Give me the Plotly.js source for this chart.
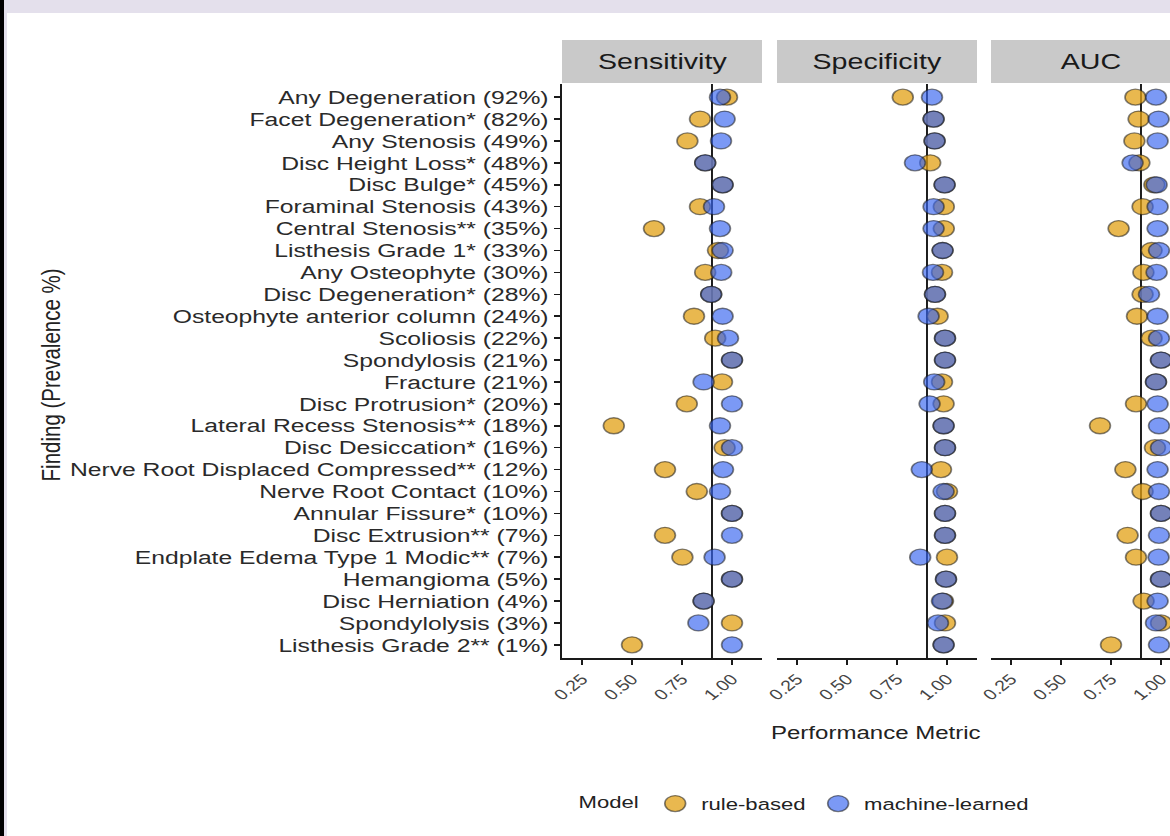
<!DOCTYPE html>
<html>
<head>
<meta charset="utf-8">
<script src="https://cdn.plot.ly/plotly-3.0.1.min.js"></script>
<style>
  html, body { margin: 0; padding: 0; background: #ffffff; overflow: hidden; }
  #wrap { position: absolute; left: 0; top: 0; width: 1170px; height: 836px; overflow: hidden; background: #ffffff; }
  #plot { position: absolute; left: 0; top: 0; width: 925px; height: 836px; transform: scaleX(1.3); transform-origin: 0 0; }
  .band-top { position: absolute; left: 0; top: 0; width: 1170px; height: 13px; background: #E4E0EC; }
  .band-left-black { position: absolute; left: 0; top: 0; width: 4px; height: 836px; background: #000000; }
  .band-left-lav { position: absolute; left: 4px; top: 13px; width: 3px; height: 823px; background: #E4E0EC; }
</style>
</head>
<body>
<div id="wrap"><div id="plot"></div></div>
<div class="band-top"></div>
<div class="band-left-black"></div>
<div class="band-left-lav"></div>
<script>
// ---------------- data ----------------
const categories = [
  "Any Degeneration (92%)",
  "Facet Degeneration* (82%)",
  "Any Stenosis (49%)",
  "Disc Height Loss* (48%)",
  "Disc Bulge* (45%)",
  "Foraminal Stenosis (43%)",
  "Central Stenosis** (35%)",
  "Listhesis Grade 1* (33%)",
  "Any Osteophyte (30%)",
  "Disc Degeneration* (28%)",
  "Osteophyte anterior column (24%)",
  "Scoliosis (22%)",
  "Spondylosis (21%)",
  "Fracture (21%)",
  "Disc Protrusion* (20%)",
  "Lateral Recess Stenosis** (18%)",
  "Disc Desiccation* (16%)",
  "Nerve Root Displaced Compressed** (12%)",
  "Nerve Root Contact (10%)",
  "Annular Fissure* (10%)",
  "Disc Extrusion** (7%)",
  "Endplate Edema Type 1 Modic** (7%)",
  "Hemangioma (5%)",
  "Disc Herniation (4%)",
  "Spondylolysis (3%)",
  "Listhesis Grade 2** (1%)"
];
const panels = ["Sensitivity", "Specificity", "AUC"];
const models = ["rule-based", "machine-learned"];

const sensRule = [0.975,0.84,0.777,0.866,0.953,0.84,0.61,0.93,0.866,0.896,0.81,0.916,1.0,0.95,0.774,0.409,0.963,0.665,0.824,1.0,0.665,0.752,1.0,0.858,1.0,0.50];
const sensML   = [0.94,0.963,0.945,0.866,0.953,0.91,0.94,0.953,0.946,0.896,0.953,0.98,1.0,0.858,1.0,0.94,1.0,0.955,0.94,1.0,1.0,0.913,1.0,0.858,0.832,1.0];
const specRule = [0.779,0.933,0.938,0.916,0.988,0.984,0.984,0.978,0.975,0.94,0.953,0.99,0.99,0.975,0.983,0.983,0.99,0.97,1.0,0.99,0.99,1.0,0.995,0.98,0.99,0.983];
const specML   = [0.925,0.933,0.938,0.84,0.988,0.933,0.933,0.978,0.93,0.94,0.908,0.99,0.99,0.936,0.913,0.983,0.99,0.874,0.983,0.99,0.99,0.866,0.995,0.975,0.955,0.983];
const aucRule  = [0.872,0.888,0.867,0.892,0.967,0.908,0.788,0.953,0.912,0.908,0.88,0.953,1.0,0.975,0.875,0.695,0.97,0.822,0.908,1.0,0.833,0.875,1.0,0.913,1.0,0.75];
const aucML    = [0.975,0.988,0.983,0.858,0.978,0.983,0.983,0.99,0.978,0.94,0.983,0.99,1.0,0.975,0.983,0.99,1.0,0.983,0.99,1.0,0.99,0.988,1.0,0.983,0.975,0.99];

const refValue = 0.9;
const xTickVals = [0.25, 0.5, 0.75, 1.0];
const xTickText = ["0.25", "0.50", "0.75", "1.00"];

// ---------------- layout helpers ----------------
const S = 1.3;          // horizontal stretch of the picture
const W = 925, H = 836; // plot size before stretch
const px = v => v / S / W;          // page x -> paper x
const py = v => 1 - v / H;          // page y -> paper y
const panelPx = [[562, 762], [777, 977], [991, 1191]];
const yTop = 84, yBot = 658;
const stripTop = 40, stripBot = 83;

const ruleColor = "rgba(225,160,20,0.75)";
const mlColor = "rgba(55,100,240,0.66)";
const lineCol = "rgba(25,25,25,0.55)";
const textCol = "#222222";
const FONT = "Liberation Sans, Arial, Helvetica, sans-serif";

const seriesByPanel = [[sensRule, sensML], [specRule, specML], [aucRule, aucML]];
const traces = [];
seriesByPanel.forEach((pair, i) => {
  const xa = i === 0 ? "x" : "x" + (i + 1);
  [0, 1].forEach(m => {
    traces.push({
      type: "scatter", mode: "markers",
      x: pair[m], y: categories,
      xaxis: xa, yaxis: "y",
      name: models[m], legendgroup: models[m], showlegend: i === 0,
      marker: { size: 16, color: m === 0 ? ruleColor : mlColor, line: { color: lineCol, width: 1.3 } },
      hoverinfo: "skip"
    });
  });
});

const layout = {
  width: W, height: H,
  margin: { l: 0, r: 0, t: 0, b: 0 },
  paper_bgcolor: "rgba(0,0,0,0)", plot_bgcolor: "rgba(0,0,0,0)",
  font: { family: FONT, color: textCol },
  showlegend: true,
  legend: {
    orientation: "h", x: px(576), xanchor: "left", y: py(804), yanchor: "middle",
    font: { size: 17, color: textCol, family: FONT },
    title: { text: "Model", side: "left", font: { size: 17, color: textCol, family: FONT } },
    itemclick: false, bgcolor: "rgba(0,0,0,0)"
  },
  yaxis: {
    domain: [py(yBot), py(yTop)], anchor: "x",
    type: "category", categoryorder: "array", categoryarray: categories,
    tickmode: "array", tickvals: categories, ticktext: categories,
    range: [categories.length - 0.4, -0.6],
    showline: true, linecolor: "#1a1a1a", linewidth: 1.5,
    ticks: "outside", ticklen: 5, tickwidth: 1.5, tickcolor: "#1a1a1a",
    tickfont: { size: 19, color: "#2a2a2a", family: FONT },
    showgrid: false, zeroline: false, fixedrange: true
  },
  shapes: [], annotations: []
};

panels.forEach((p, i) => {
  const key = i === 0 ? "xaxis" : "xaxis" + (i + 1);
  const ref = i === 0 ? "x" : "x" + (i + 1);
  layout[key] = {
    domain: [px(panelPx[i][0]), px(panelPx[i][1])], anchor: "y",
    range: [0.15, 1.15],
    tickmode: "array", tickvals: xTickVals, ticktext: xTickText,
    tickangle: -45, tickfont: { size: 15, color: "#444444", family: FONT },
    showline: true, linecolor: "#1a1a1a", linewidth: 1.5,
    ticks: "outside", ticklen: 5, tickwidth: 1.5, tickcolor: "#1a1a1a",
    showgrid: false, zeroline: false, fixedrange: true
  };
  // strip
  layout.shapes.push({
    type: "rect", xref: "paper", yref: "paper",
    x0: px(panelPx[i][0]), x1: px(panelPx[i][1]), y0: py(stripBot), y1: py(stripTop),
    fillcolor: "#C9C9C9", line: { width: 0 }, layer: "below"
  });
  layout.annotations.push({
    xref: "paper", yref: "paper",
    x: px((panelPx[i][0] + panelPx[i][1]) / 2), y: py((stripTop + stripBot) / 2),
    xanchor: "center", yanchor: "middle", showarrow: false,
    text: p, font: { size: 22, color: "#1a1a1a", family: FONT }
  });
  // reference line
  layout.shapes.push({
    type: "line", xref: ref, yref: "y domain",
    x0: refValue, x1: refValue, y0: 0, y1: 1,
    line: { color: "#1a1a1a", width: 1.5 }, layer: "below"
  });
});

layout.annotations.push({
  xref: "paper", yref: "paper", x: px(50), y: py(375),
  xanchor: "center", yanchor: "middle", showarrow: false, textangle: -90,
  text: "Finding (Prevalence %)", font: { size: 20.5, color: textCol, family: FONT }
});
layout.annotations.push({
  xref: "paper", yref: "paper", x: px(876), y: py(732),
  xanchor: "center", yanchor: "middle", showarrow: false,
  text: "Performance Metric", font: { size: 18.5, color: textCol, family: FONT }
});

Plotly.newPlot("plot", traces, layout, { staticPlot: true, displayModeBar: false });
</script>
</body>
</html>
